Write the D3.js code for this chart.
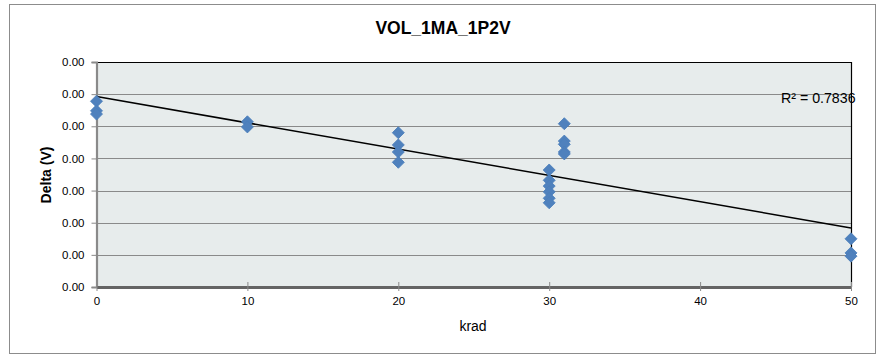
<!DOCTYPE html>
<html>
<head>
<meta charset="utf-8">
<script src="https://cdn.jsdelivr.net/npm/d3@7"></script>
<style>
  html, body { margin: 0; padding: 0; background: #fff; }
  svg { display: block; font-family: "Liberation Sans", Arial, sans-serif; }
</style>
</head>
<body>
<svg id="chart" width="877" height="357"></svg>
<script>
// ---- data ----
const chartTitle = "VOL_1MA_1P2V";
const xLabel = "krad";
const yLabel = "Delta (V)";
const r2Label = "R\u00B2 = 0.7836";
const xTicks = [0, 10, 20, 30, 40, 50];
const yTicks = [0, 0.0005, 0.001, 0.0015, 0.002, 0.0025, 0.003, 0.0035];
const doseKrad = [0, 0, 0,
                  10, 10,
                  20, 20, 20, 20,
                  30, 30, 30, 30, 30, 30,
                  31, 31, 31, 31, 31,
                  50, 50, 50];
const deltaV = [0.00289, 0.00274, 0.00269,
                0.00257, 0.00249,
                0.00240, 0.00221, 0.00210, 0.00194,
                0.00182, 0.00166, 0.00157, 0.00148, 0.00138, 0.00131,
                0.00254, 0.00227, 0.00222, 0.00210, 0.00207,
                0.00075, 0.00053, 0.00048];

// ---- layout ----
const svg = d3.select("#chart");
const plot = { left: 96.5, right: 851, top: 62, bottom: 287 };

const x = d3.scaleLinear().domain([0, 50]).range([plot.left, plot.right]);
const y = d3.scaleLinear().domain([0, 0.0035]).range([plot.bottom, plot.top]);

// outer chart border
svg.append("rect")
  .attr("x", 9.5).attr("y", 4.5).attr("width", 866).attr("height", 349)
  .attr("fill", "#fff").attr("stroke", "#8c8c8c").attr("stroke-width", 1);

// plot background
svg.append("rect")
  .attr("x", plot.left).attr("y", plot.top)
  .attr("width", plot.right - plot.left).attr("height", plot.bottom - plot.top)
  .attr("fill", "#e7ecec");

// horizontal gridlines
svg.append("g").selectAll("line").data(yTicks.slice(1, -1)).join("line")
  .attr("x1", plot.left).attr("x2", plot.right)
  .attr("y1", d => Math.round(y(d)) + 0.5).attr("y2", d => Math.round(y(d)) + 0.5)
  .attr("stroke", "#8a8a8a").attr("stroke-width", 1.2);

// top & right border (black)
svg.append("path")
  .attr("d", `M${plot.left},${plot.top + 0.5}H${plot.right + 0.5}V${plot.bottom}`)
  .attr("fill", "none").attr("stroke", "#000").attr("stroke-width", 1.2);

// y axis
const yAxis = d3.axisLeft(y).tickValues(yTicks).tickFormat(d3.format(".2f")).tickSize(5).tickPadding(7);
const gy = svg.append("g").attr("transform", `translate(${plot.left},0)`).call(yAxis);
gy.select(".domain").attr("stroke", "#8a8a8a").attr("stroke-width", 2.2);
gy.selectAll(".tick line").attr("stroke", "#8a8a8a");
gy.selectAll(".tick text").attr("font-size", 11.5).attr("fill", "#000")
  .attr("font-family", "'Liberation Sans', Arial, sans-serif");

// x axis
const xAxis = d3.axisBottom(x).tickValues(xTicks).tickFormat(d3.format("d")).tickSizeInner(4).tickSizeOuter(0).tickPadding(6);
const gx = svg.append("g").attr("transform", `translate(0,${plot.bottom})`).call(xAxis);
gx.select(".domain").attr("stroke", "#646464").attr("stroke-width", 3);
gx.selectAll(".tick line").attr("stroke", "#8a8a8a").attr("y1", -5);
gx.selectAll(".tick text").attr("font-size", 11.5).attr("fill", "#000")
  .attr("font-family", "'Liberation Sans', Arial, sans-serif");

// trend line (least squares fit of the data)
const n = doseKrad.length;
const mx = d3.mean(doseKrad), my = d3.mean(deltaV);
let sxy = 0, sxx = 0;
for (let i = 0; i < n; i++) {
  sxy += (doseKrad[i] - mx) * (deltaV[i] - my);
  sxx += (doseKrad[i] - mx) ** 2;
}
const slope = sxy / sxx, intercept = my - slope * mx;
svg.append("line")
  .attr("x1", x(0)).attr("y1", y(intercept))
  .attr("x2", x(50)).attr("y2", y(intercept + slope * 50))
  .attr("stroke", "#000").attr("stroke-width", 1.5);

// points (diamonds)
const diamond = d3.symbol().type(d3.symbolSquare).size(72);
svg.append("g").selectAll("path").data(d3.range(n)).join("path")
  .attr("d", diamond)
  .attr("transform", i => `translate(${x(doseKrad[i])},${y(deltaV[i])}) rotate(45)`)
  .attr("fill", "#4f81bd").attr("stroke", "#4a7ebb").attr("stroke-width", 0.8);

// R² label
svg.append("text")
  .attr("x", 781).attr("y", 103)
  .attr("font-size", 14.2).attr("fill", "#000")
  .text(r2Label);

// title
svg.append("text")
  .attr("x", 443).attr("y", 34).attr("text-anchor", "middle")
  .attr("font-size", 17.5).attr("font-weight", "bold").attr("fill", "#000")
  .text(chartTitle);

// x label
svg.append("text")
  .attr("x", 473).attr("y", 331).attr("text-anchor", "middle")
  .attr("font-size", 14).attr("fill", "#000")
  .text(xLabel);

// y label
svg.append("text")
  .attr("transform", `translate(51,175) rotate(-90)`)
  .attr("text-anchor", "middle")
  .attr("font-size", 14).attr("font-weight", "bold").attr("fill", "#000")
  .text(yLabel);
</script>
</body>
</html>
